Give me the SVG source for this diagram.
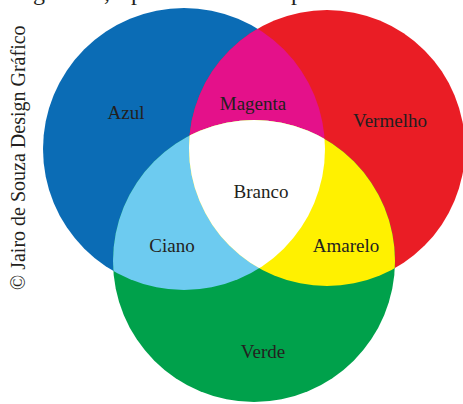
<svg xmlns="http://www.w3.org/2000/svg" width="463" height="404" viewBox="0 0 463 404">
  <style>
    .lbl { font-family: "Liberation Serif", "Times New Roman", serif; font-size: 19px; fill: #231f20; text-anchor: middle; }
    .top { font-family: "Liberation Serif", "Times New Roman", serif; font-size: 24px; fill: #231f20; }
  </style>
  <defs>
    <clipPath id="cBlue"><circle cx="184" cy="149" r="141"/></clipPath>
    <clipPath id="cRed"><circle cx="327" cy="148" r="138"/></clipPath>
    <clipPath id="cGreen"><circle cx="254" cy="261" r="141"/></clipPath>
  </defs>
  <rect width="463" height="404" fill="#ffffff"/>

  <g id="cropped-heading">
    <text class="top" x="33" y="0">g</text>
    <text class="top" x="104" y="0">,</text>
    <text class="top" x="131" y="0">p</text>
    <text class="top" x="291" y="0">p</text>
  </g>

  <g id="credit">
    <text font-family="'Liberation Serif', 'Times New Roman', serif" font-size="20" fill="#231f20" transform="translate(25,290) rotate(-90)">© Jairo de Souza Design Gráfico</text>
  </g>

  <g id="azul"><circle cx="184" cy="149" r="141" fill="#0b6cb5"/></g>
  <g id="vermelho"><circle cx="327" cy="148" r="138" fill="#ea1d25"/></g>
  <g id="verde"><circle cx="254" cy="261" r="141" fill="#00a14b"/></g>
  <g id="magenta" clip-path="url(#cBlue)"><circle cx="327" cy="148" r="138" fill="#e4118a"/></g>
  <g id="ciano" clip-path="url(#cBlue)"><circle cx="254" cy="261" r="141" fill="#6dcbf0"/></g>
  <g id="amarelo" clip-path="url(#cRed)"><circle cx="254" cy="261" r="141" fill="#fff100"/></g>
  <g id="branco" clip-path="url(#cBlue)"><g clip-path="url(#cRed)"><circle cx="254" cy="261" r="141" fill="#ffffff"/></g></g>

  <g id="labels">
    <text class="lbl" x="126" y="119">Azul</text>
    <text class="lbl" x="253" y="110">Magenta</text>
    <text class="lbl" x="390" y="127">Vermelho</text>
    <text class="lbl" x="261" y="198">Branco</text>
    <text class="lbl" x="172" y="252">Ciano</text>
    <text class="lbl" x="346" y="252">Amarelo</text>
    <text class="lbl" x="263" y="358">Verde</text>
  </g>
</svg>
